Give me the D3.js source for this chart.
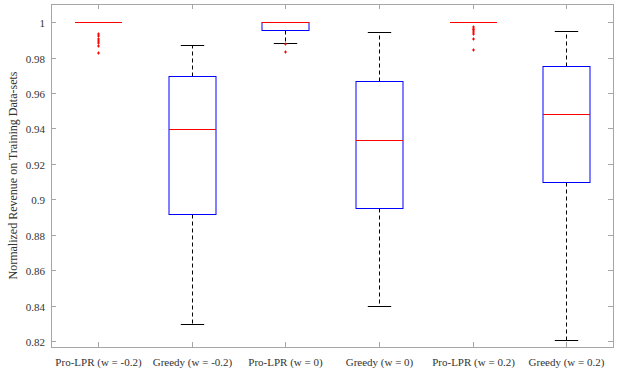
<!DOCTYPE html>
<html>
<head>
<meta charset="utf-8">
<script src="https://cdn.jsdelivr.net/npm/d3@7"></script>
<style>
  body { margin: 0; background: #fff; }
</style>
</head>
<body>
<div id="chart"></div>
<script>
const categories = ['Pro-LPR (w = -0.2)', 'Greedy (w = -0.2)', 'Pro-LPR (w = 0)',
  'Greedy (w = 0)', 'Pro-LPR (w = 0.2)', 'Greedy (w = 0.2)'];
const upperWhisker = [1, 0.987, 1, 0.9942, 1, 0.9947];
const q3 = [1, 0.9695, 1, 0.967, 1, 0.975];
const median = [1, 0.9394, 1, 0.9332, 1, 0.9479];
const q1 = [1, 0.8914, 0.9953, 0.8953, 1, 0.9095];
const lowerWhisker = [1, 0.8298, 0.988, 0.840, 1, 0.8207];
const outliers = [
  [0.9934, 0.9921, 0.9906, 0.9893, 0.988, 0.9864, 0.9827],
  [],
  [0.9876, 0.9832],
  [],
  [0.9972, 0.9963, 0.9953, 0.9944, 0.9934, 0.9906, 0.9842],
  []
];
const yTicks = [0.82, 0.84, 0.86, 0.88, 0.9, 0.92, 0.94, 0.96, 0.98, 1];
const yLabel = 'Normalized Revenue on Training Data-sets';

const width = 623, height = 380;
const margin = { left: 51, right: 10, top: 4, bottom: 33 };
const font = '"Liberation Serif", "DejaVu Serif", serif';
const textColor = '#333';

const svg = d3.select('#chart').append('svg')
  .attr('width', width).attr('height', height)
  .style('font-family', font);

const x = d3.scaleLinear().domain([0.5, 6.5]).range([margin.left, width - margin.right]);
const y = d3.scaleLinear().domain([0.8166, 1.0102]).range([height - margin.bottom, margin.top]);
const py = v => Math.round(y(v)) + 0.5;

const data = categories.map((c, i) => ({
  i: i + 1, name: c, hi: upperWhisker[i], q3: q3[i], med: median[i],
  q1: q1[i], lo: lowerWhisker[i], out: outliers[i]
}));

const axisColor = '#a6a6a6';
const tickLen = 5;
const x0 = x.range()[0], x1 = x.range()[1];
const y0 = y.range()[0], y1 = y.range()[1];

// frame
const frame = svg.append('g').attr('stroke', axisColor).attr('stroke-width', 1).attr('fill', 'none');
frame.append('rect')
  .attr('x', x0 + 0.5).attr('y', y1 + 0.5)
  .attr('width', x1 - x0).attr('height', y0 - y1);

// y ticks (left and right, inward)
yTicks.forEach(t => {
  const yy = py(t);
  frame.append('line').attr('x1', x0).attr('x2', x0 + tickLen).attr('y1', yy).attr('y2', yy);
  frame.append('line').attr('x1', x1).attr('x2', x1 - tickLen).attr('y1', yy).attr('y2', yy);
  svg.append('text')
    .attr('x', x0 - 6).attr('y', yy + 4)
    .attr('text-anchor', 'end').attr('font-size', 11)
    .attr('font-family', font).attr('fill', textColor)
    .text(d3.format('')(t));
});

// x ticks (top and bottom, inward)
data.forEach(d => {
  const xx = Math.round(x(d.i)) + 0.5;
  frame.append('line').attr('x1', xx).attr('x2', xx).attr('y1', y0).attr('y2', y0 - tickLen);
  frame.append('line').attr('x1', xx).attr('x2', xx).attr('y1', y1).attr('y2', y1 + tickLen);
  svg.append('text')
    .attr('x', xx).attr('y', y0 + 19)
    .attr('text-anchor', 'middle').attr('font-size', 11)
    .attr('font-family', font).attr('fill', textColor)
    .text(d.name);
});

// y label
svg.append('text')
  .attr('transform', `translate(17,${(y0 + y1) / 2}) rotate(-90)`)
  .attr('text-anchor', 'middle').attr('font-size', 12)
  .attr('font-family', font).attr('fill', textColor)
  .text(yLabel);

const boxW = x(1.25) - x(0.75);
const capW = x(1.125) - x(0.875);

const g = svg.append('g');
data.forEach(d => {
  const cx = Math.round(x(d.i)) + 0.5;
  // whiskers
  g.append('line').attr('x1', cx).attr('x2', cx).attr('y1', py(d.q3)).attr('y2', py(d.hi))
    .attr('stroke', '#000').attr('stroke-dasharray', '4,3');
  g.append('line').attr('x1', cx).attr('x2', cx).attr('y1', py(d.q1)).attr('y2', py(d.lo))
    .attr('stroke', '#000').attr('stroke-dasharray', '4,3');
  // caps
  [d.hi, d.lo].forEach(v => {
    g.append('line').attr('x1', cx - capW / 2).attr('x2', cx + capW / 2)
      .attr('y1', py(v)).attr('y2', py(v)).attr('stroke', '#000');
  });
  // box
  g.append('rect')
    .attr('x', Math.round(cx - boxW / 2)).attr('y', py(d.q3))
    .attr('width', Math.round(boxW)).attr('height', Math.max(0, py(d.q1) - py(d.q3)))
    .attr('fill', 'none').attr('stroke', '#0000ff');
  // median
  g.append('line').attr('x1', Math.round(cx - boxW / 2)).attr('x2', Math.round(cx - boxW / 2) + Math.round(boxW))
    .attr('y1', py(d.med)).attr('y2', py(d.med)).attr('stroke', '#ff0000');
  // outliers
  d.out.forEach(v => {
    const oy = py(v) - 0.5;
    g.append('path')
      .attr('d', `M${cx - 1.5},${oy}H${cx + 1.5}M${cx},${oy - 1.5}V${oy + 1.5}`)
      .attr('stroke', '#ff0000').attr('stroke-width', 1);
  });
});
</script>
</body>
</html>
